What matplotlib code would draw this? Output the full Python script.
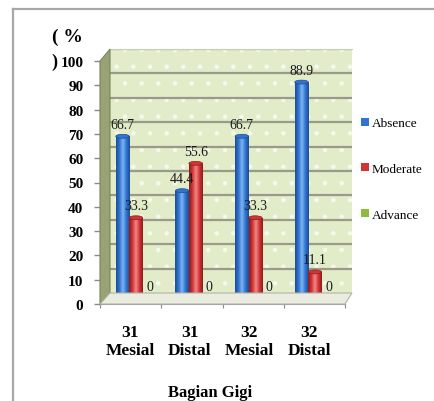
import numpy as np
import matplotlib.pyplot as plt
from matplotlib.colors import LinearSegmentedColormap
from matplotlib.patches import Polygon, Ellipse, Rectangle, Patch
from matplotlib.lines import Line2D

plt.rcParams['font.family'] = ['Liberation Serif', 'DejaVu Serif']
plt.rcParams['hatch.linewidth'] = 0.8

# data
categories = ['31\nMesial', '31\nDistal', '32\nMesial', '32\nDistal']
series = ['Absence', 'Moderate', 'Advance']
absence = [66.7, 44.4, 66.7, 88.9]
moderate = [33.3, 55.6, 33.3, 11.1]
advance = [0, 0, 0, 0]
yticks = [0, 10, 20, 30, 40, 50, 60, 70, 80, 90, 100]

colors = {
    'Absence': ('#1d4c96', '#2f74d0', '#7fb4f2'),
    'Moderate': ('#8e1c1c', '#d23434', '#f08a8a'),
    'Advance': ('#5c7f22', '#8cbc3c', '#c4e48a'),
}

W, H = 434, 402
fig = plt.figure(figsize=(W / 100, H / 100), dpi=100)


def px(x, y):
    # pixel coords (top-left origin) -> figure fraction
    return (x / W, 1 - y / H)


def axes_px(left, right, top, bottom):
    return [left / W, 1 - bottom / H, (right - left) / W, (bottom - top) / H]


xlim = (-0.435, 3.62)

# back wall
ax_back = fig.add_axes(axes_px(110, 352, 50, 294))
ax_back.set_facecolor('#e2ecc8')
ax_back.set_xlim(*xlim)
ax_back.set_ylim(0, 100)
ax_back.add_patch(Rectangle((0, 0), 1, 1, transform=ax_back.transAxes,
                            facecolor='none', edgecolor='#f6f9ee', hatch='.',
                            lw=0, zorder=0.5))
for v in yticks[1:]:
    ax_back.axhline(v, color='#9a9a8a', lw=1.6, zorder=1)
ax_back.set_xticks([])
ax_back.set_yticks([])
for s in ax_back.spines.values():
    s.set_visible(False)
ax_back.spines['top'].set_visible(True)
ax_back.spines['top'].set_color('#c8cfb6')

# side wall and floor
wall = Polygon([px(100, 62), px(110, 50), px(110, 294), px(100, 305)],
               closed=True, transform=fig.transFigure,
               facecolor='#98a274', edgecolor='#7d8660', lw=0.8)
fig.add_artist(wall)
floor = Polygon([px(100, 305), px(110, 294), px(352, 294), px(345, 305)],
                closed=True, transform=fig.transFigure,
                facecolor='#e9ecdf', edgecolor='#b0b3a6', lw=0.8)
fig.add_artist(floor)

# front axis with ticks
ax_front = fig.add_axes(axes_px(100, 345, 62, 305))
ax_front.patch.set_visible(False)
ax_front.set_ylim(0, 100)
ax_front.set_xlim(-0.5, 3.5)
ax_front.set_yticks(yticks)
ax_front.set_yticklabels([str(v) for v in yticks], fontsize=11, fontweight='bold')
ax_front.set_xticks([-0.5, 0.5, 1.5, 2.5, 3.5])
ax_front.set_xticklabels([])
ax_front.tick_params(axis='y', length=4, width=1, color='#8a8a8a', pad=8)
ax_front.tick_params(axis='x', length=3, width=0.8, color='#8a8a8a')
for side in ['top', 'right']:
    ax_front.spines[side].set_visible(False)
ax_front.spines['left'].set_color('#8a8a8a')
ax_front.spines['bottom'].set_color('#9a9a9a')

# bars
ax = fig.add_axes(axes_px(110, 352, 56, 300))
ax.patch.set_visible(False)
for s in ax.spines.values():
    s.set_visible(False)

x = np.arange(len(categories))
w = 0.226
grad = np.linspace(0, 1, 64).reshape(1, -1)
for i, (name, vals) in enumerate(zip(series, [absence, moderate, advance])):
    dark, base, light = colors[name]
    cmap = LinearSegmentedColormap.from_list(name, [dark, base, light, base, dark], N=256)
    pos = x + (i - 1) * w
    bars = ax.bar(pos, vals, width=w, color='none', edgecolor='none', zorder=3)
    for b, v in zip(bars, vals):
        x0 = b.get_x()
        if v > 0:
            im = ax.imshow(grad, extent=[x0, x0 + w, 0, v], cmap=cmap,
                           aspect='auto', zorder=3, interpolation='bilinear')
            im.set_clip_path(b)
            ax.add_patch(Ellipse((x0 + w / 2, v), w, 1.6, facecolor=base,
                                 edgecolor=dark, lw=0.5, zorder=4))
        else:
            ax.add_patch(Ellipse((x0 + w / 2, 0.6), w, 1.6, facecolor=base,
                                 edgecolor=dark, lw=0.5, zorder=4))
        ax.annotate(f'{v:g}', (x0 + w / 2, v), xytext=(0, 4),
                    textcoords='offset points', ha='center', va='bottom',
                    fontsize=10, color='#1a1a1a', zorder=5)

ax.set_xlim(*xlim)
ax.set_ylim(0, 100)
ax.set_yticks([])
ax.set_xticks(x - 0.1)
ax.set_xticklabels(categories, fontsize=12.5, fontweight='bold', linespacing=1.2)
ax.tick_params(axis='x', length=0, pad=18)

# titles
fig.text(*px(52, 29), '( %', fontsize=14, fontweight='bold',
         ha='left', va='top')
fig.text(*px(51, 62), ')', fontsize=13, fontweight='bold',
         ha='left', va='center')
fig.text(*px(210, 393), 'Bagian Gigi', fontsize=12, fontweight='bold',
         ha='center', va='center')

# legend
handles = [Patch(facecolor=colors[n][1], edgecolor='none') for n in series]
fig.legend(handles, series, loc='upper left', bbox_to_anchor=px(356, 113),
           frameon=False, fontsize=9.5, handlelength=0.55, handleheight=0.55,
           handletextpad=0.25, labelspacing=2.55, borderaxespad=0)

# outer frame
fig.add_artist(Line2D([13 / W, 13 / W], [0, 1 - 10 / H], transform=fig.transFigure,
                      color='#a8a8a8', lw=1.6))
fig.add_artist(Line2D([13 / W, 1], [1 - 10 / H, 1 - 10 / H], transform=fig.transFigure,
                      color='#a8a8a8', lw=1.6))

fig.savefig('out.png', dpi=100)
